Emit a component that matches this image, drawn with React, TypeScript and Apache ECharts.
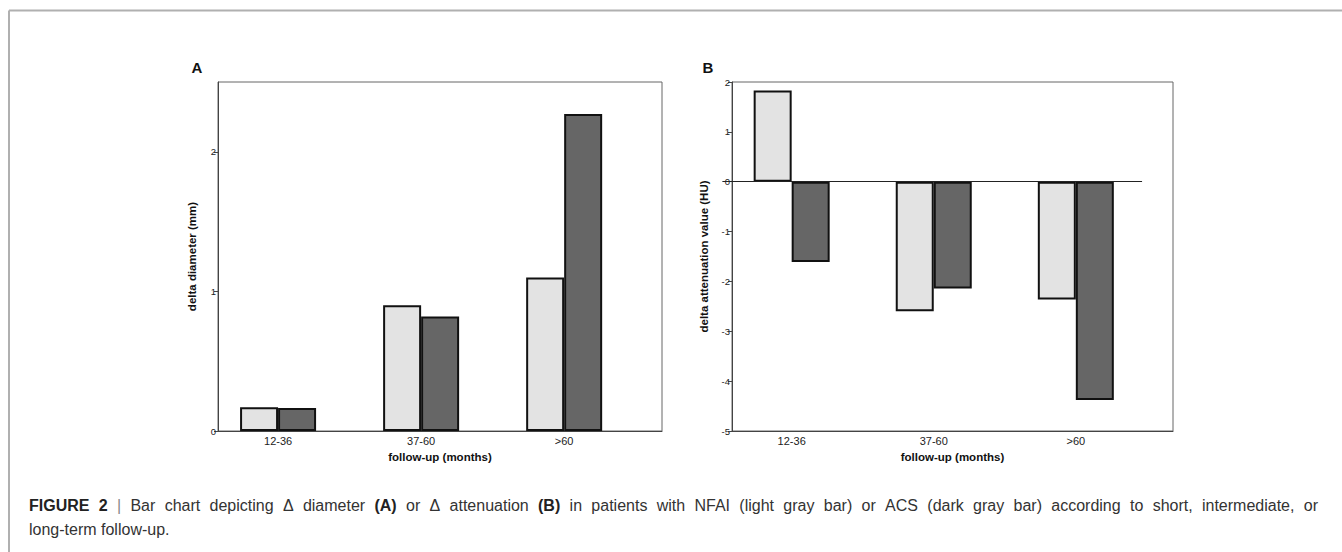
import React, { useEffect, useRef } from "react";
import * as echarts from "echarts";

const categories = ["12-36", "37-60", ">60"];
const diameterNFAI = [0.17, 0.9, 1.1];
const diameterACS = [0.165, 0.82, 2.27];
const attenuationNFAI = [1.83, -2.6, -2.36];
const attenuationACS = [-1.61, -2.14, -4.38];
const diameterTicks = [0, 1, 2];
const attenuationTicks = [-5, -4, -3, -2, -1, 0, 1, 2];
const categoryPositions = [1, 2, 3];

// caption words: [text, style] where style b = bold, g = gray separator, n = normal
const captionLine1: [string, string][] = [
  ["FIGURE", "b"], ["2", "b"], ["|", "g"], ["Bar", "n"], ["chart", "n"], ["depicting", "n"], ["Δ", "n"],
  ["diameter", "n"], ["(A)", "b"], ["or", "n"], ["Δ", "n"], ["attenuation", "n"], ["(B)", "b"], ["in", "n"],
  ["patients", "n"], ["with", "n"], ["NFAI", "n"], ["(light", "n"], ["gray", "n"], ["bar)", "n"], ["or", "n"],
  ["ACS", "n"], ["(dark", "n"], ["gray", "n"], ["bar)", "n"], ["according", "n"], ["to", "n"], ["short,", "n"],
  ["intermediate,", "n"], ["or", "n"],
];
const captionLine2 = "long-term follow-up.";

const LIGHT = "#e3e3e3";
const DARK = "#666666";
const FONT = "'Liberation Sans', Arial, sans-serif";
const CAP_SIZE = 16;
const X_MIN = 0.58;
const X_MAX = 3.684;

function toPoints(vals: number[]) {
  return vals.map((v, i) => [categoryPositions[i], v]);
}

function barSeries(name: string, vals: number[], color: string, xi: number, extra: any = {}) {
  return {
    type: "bar",
    name,
    xAxisIndex: xi,
    yAxisIndex: xi,
    data: toPoints(vals),
    barWidth: 38,
    barGap: "0%",
    itemStyle: { color, borderColor: "#111", borderWidth: 2 },
    silent: true,
    ...extra,
  };
}

function captionElements(left: number, right: number, y: number) {
  const canvas = document.createElement("canvas");
  const ctx = canvas.getContext("2d")!;
  const fontFor = (s: string) => `${s === "b" ? "bold " : ""}${CAP_SIZE}px ${FONT}`;
  const widths = captionLine1.map(([t, s]) => {
    ctx.font = fontFor(s);
    return ctx.measureText(t).width;
  });
  const total = widths.reduce((a, b) => a + b, 0);
  const gap = (right - left - total) / (captionLine1.length - 1);
  const els: any[] = [];
  let x = left;
  captionLine1.forEach(([t, s], i) => {
    els.push({
      type: "text",
      x,
      y,
      style: {
        text: t,
        font: fontFor(s),
        fill: s === "g" ? "#888" : s === "b" ? "#222" : "#333",
        verticalAlign: "middle",
      },
    });
    x += widths[i] + gap;
  });
  return els;
}

export default function App() {
  const ref = useRef<HTMLDivElement>(null);
  useEffect(() => {
    if (!ref.current) return;
    const chart = echarts.init(ref.current, undefined, { renderer: "svg" });
    const nameStyle = { fontFamily: FONT, fontWeight: "bold", fontSize: 11.5, color: "#111" };
    const xAxisBase = (gridIndex: number) => ({
      type: "value",
      gridIndex,
      min: X_MIN,
      max: X_MAX,
      name: "follow-up (months)",
      nameLocation: "middle",
      nameGap: 15,
      nameTextStyle: nameStyle,
      axisLine: { show: true, onZero: false, lineStyle: { color: "#444", width: 1 } },
      axisTick: { show: false },
      splitLine: { show: false },
      axisLabel: {
        customValues: categoryPositions,
        formatter: (v: number) => categories[Math.round(v) - 1] ?? "",
        fontFamily: FONT,
        fontSize: 11,
        color: "#222",
        margin: 4,
      },
    });
    const option: any = {
      animation: false,
      backgroundColor: "#fff",
      grid: [
        { left: 218, top: 82, width: 444, height: 349, show: true, borderColor: "#666", borderWidth: 1, backgroundColor: "transparent" },
        { left: 732, top: 82, width: 441, height: 349, show: true, borderColor: "#666", borderWidth: 1, backgroundColor: "transparent" },
      ],
      xAxis: [xAxisBase(0), xAxisBase(1)],
      yAxis: [
        {
          type: "value",
          gridIndex: 0,
          min: 0,
          max: 2.5,
          name: "delta diameter (mm)",
          nameLocation: "middle",
          nameGap: 20,
          nameTextStyle: nameStyle,
          axisLine: { show: true, onZero: false, lineStyle: { color: "#444" } },
          axisTick: { show: true, length: 4, customValues: diameterTicks, lineStyle: { color: "#444" } },
          axisLabel: { customValues: diameterTicks, fontFamily: FONT, fontSize: 9.5, color: "#222", margin: 2 },
          splitLine: { show: false },
        },
        {
          type: "value",
          gridIndex: 1,
          min: -5,
          max: 2,
          interval: 1,
          name: "delta attenuation value (HU)",
          nameLocation: "middle",
          nameGap: 22,
          nameTextStyle: nameStyle,
          axisLine: { show: true, onZero: false, lineStyle: { color: "#444" } },
          axisTick: { show: true, length: 4, customValues: attenuationTicks, lineStyle: { color: "#444" } },
          axisLabel: { customValues: attenuationTicks, fontFamily: FONT, fontSize: 9.5, color: "#222", margin: 2 },
          splitLine: { show: false },
        },
      ],
      series: [
        barSeries("NFAI", diameterNFAI, LIGHT, 0),
        barSeries("ACS", diameterACS, DARK, 0),
        barSeries("NFAI", attenuationNFAI, LIGHT, 1, {
          markLine: {
            silent: true,
            symbol: "none",
            label: { show: false },
            lineStyle: { color: "#222", width: 1, type: "solid" },
            data: [[{ coord: [0.646, 0] }, { coord: [3.6, 0] }]],
          },
        }),
        barSeries("ACS", attenuationACS, DARK, 1),
      ],
      graphic: [
        { type: "line", shape: { x1: 9, y1: 10.5, x2: 1342, y2: 10.5 }, style: { stroke: "#b0b0b0", lineWidth: 2 } },
        { type: "line", shape: { x1: 9, y1: 10.5, x2: 9, y2: 552 }, style: { stroke: "#b0b0b0", lineWidth: 2 } },
        { type: "text", x: 197, y: 67, style: { text: "A", font: `bold 15px ${FONT}`, fill: "#111", align: "center", verticalAlign: "middle" } },
        { type: "text", x: 708, y: 67, style: { text: "B", font: `bold 15px ${FONT}`, fill: "#111", align: "center", verticalAlign: "middle" } },
        ...captionElements(29, 1318, 505),
        { type: "text", x: 29, y: 529, style: { text: captionLine2, font: `${CAP_SIZE}px ${FONT}`, fill: "#333", verticalAlign: "middle" } },
      ],
    };
    chart.setOption(option);
    return () => chart.dispose();
  }, []);
  return <div ref={ref} style={{ position: "fixed", left: 0, top: 0, width: 1342, height: 552 }} />;
}
